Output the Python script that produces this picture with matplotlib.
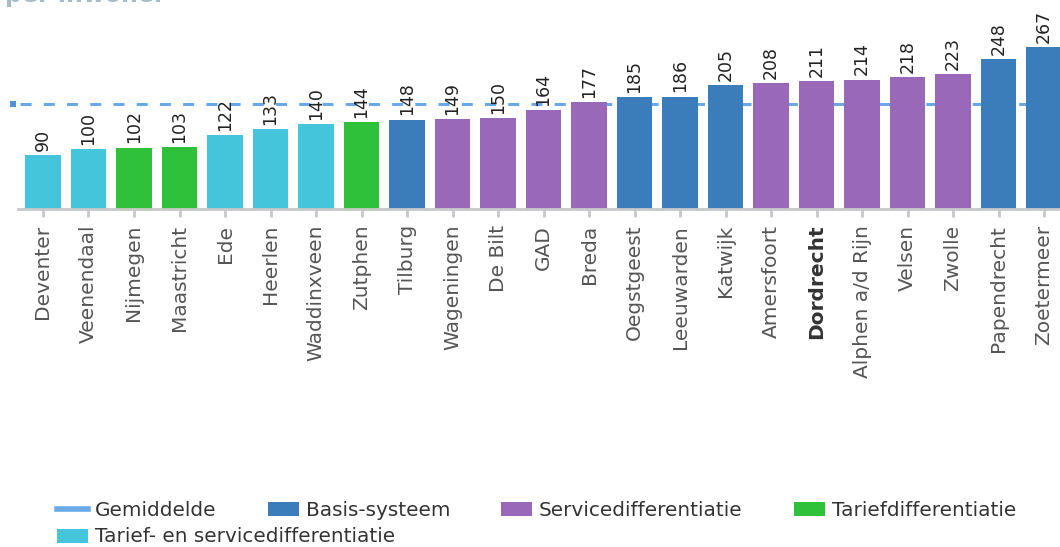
#!/usr/bin/env python3
"""plot.py — bar chart of costs per inhabitant per municipality."""

import matplotlib
matplotlib.use("Agg")
import matplotlib.pyplot as plt
from matplotlib.patches import Patch
from matplotlib.lines import Line2D

OUTPUT_NAME = "out.png"

TITLE = "per inwoner"

gemeenten = ["Deventer", "Veenendaal", "Nijmegen", "Maastricht", "Ede", "Heerlen",
             "Waddinxveen", "Zutphen", "Tilburg", "Wageningen", "De Bilt", "GAD",
             "Breda", "Oegstgeest", "Leeuwarden", "Katwijk", "Amersfoort", "Dordrecht",
             "Alphen a/d Rijn", "Velsen", "Zwolle", "Papendrecht", "Zoetermeer"]
waarden = [90, 100, 102, 103, 122, 133, 140, 144, 148, 149, 150, 164,
           177, 185, 186, 205, 208, 211, 214, 218, 223, 248, 267]
systeem = ["ts", "ts", "t", "t", "ts", "ts", "ts", "t", "b", "s", "s", "s",
           "s", "b", "b", "b", "s", "s", "s", "s", "s", "b", "b"]
gemiddelde = 174

COLORS = {"b": "#3b7dbb", "s": "#9a68b8", "t": "#2fc13a", "ts": "#44c5dc"}
LABELS = {"b": "Basis-systeem", "s": "Servicedifferentiatie",
          "t": "Tariefdifferentiatie", "ts": "Tarief- en servicedifferentiatie"}
AVG_COLOR = "#69a9e8"
HIGHLIGHT = "Dordrecht"


def main() -> None:
    plt.rcParams["font.family"] = ["DejaVu Sans"]
    fig = plt.figure(figsize=(10.6, 5.47), dpi=100)
    ax = fig.add_axes([10 / 1060, 1 - 209.5 / 547, 1 - 10 / 1060, 209.5 / 547])

    x = list(range(len(gemeenten)))
    ax.bar(x, waarden, width=0.785, color=[COLORS[s] for s in systeem], zorder=2)
    for xi, v in zip(x, waarden):
        ax.annotate(str(v), (xi, v), xytext=(0, 3), textcoords="offset points",
                    rotation=90, ha="center", va="bottom", fontsize=12.5,
                    color="#222222", zorder=4)

    # average line: dashes of ~11 px with ~12 px gaps, drawn behind the bars
    ax.axhline(gemiddelde, color=AVG_COLOR, lw=2.2, ls=(4.3, (3.6, 4.0)), zorder=1)
    ax.plot([-0.65], [gemiddelde], marker="s", ms=5, mew=0, color="#4f92d8",
            zorder=1, clip_on=False)

    ax.set_xlim(-0.725, 22.35)
    ax.set_ylim(0, 345)
    ax.set_xticks(x)
    ax.set_xticklabels(gemeenten, rotation=90, fontsize=14.5, color="#555555")
    for lbl in ax.get_xticklabels():
        if lbl.get_text() == HIGHLIGHT:
            lbl.set_fontweight("bold")
            lbl.set_color("#333333")
    ax.tick_params(axis="x", length=6, width=2, color="#c8c8c8", pad=5)
    ax.set_yticks([])
    for side in ("top", "right", "left"):
        ax.spines[side].set_visible(False)
    ax.spines["bottom"].set_color("#c8c8c8")
    ax.spines["bottom"].set_linewidth(2)
    ax.spines["bottom"].set_bounds(-0.55, 22.35)
    ax.spines["bottom"].set_zorder(3)

    # title sits mostly above the cropped top edge
    fig.text(5 / 1060, 1 - 2 / 547, TITLE, fontsize=17, fontweight="bold",
             color="#a5bcc4", ha="left", va="baseline")

    handles = [Line2D([0], [0], color=AVG_COLOR, lw=4)]
    handles += [Patch(facecolor=COLORS[k]) for k in ("b", "s", "t")]
    names = ["Gemiddelde"] + [LABELS[k] for k in ("b", "s", "t")]
    leg_kw = dict(frameon=False, fontsize=14.4, handlelength=1.55, handleheight=0.7,
                  handletextpad=0.35, columnspacing=2.55, borderpad=0,
                  borderaxespad=0, labelcolor="#333333", loc="center left")
    fig.legend(handles, names, ncol=4, bbox_to_anchor=(57 / 1060, 37 / 547), **leg_kw)
    fig.legend([Patch(facecolor=COLORS["ts"])], [LABELS["ts"]], ncol=1,
               bbox_to_anchor=(57 / 1060, 10 / 547), **leg_kw)

    fig.savefig(OUTPUT_NAME, dpi=100)
    print(f"Wrote {OUTPUT_NAME}")


if __name__ == "__main__":
    main()
